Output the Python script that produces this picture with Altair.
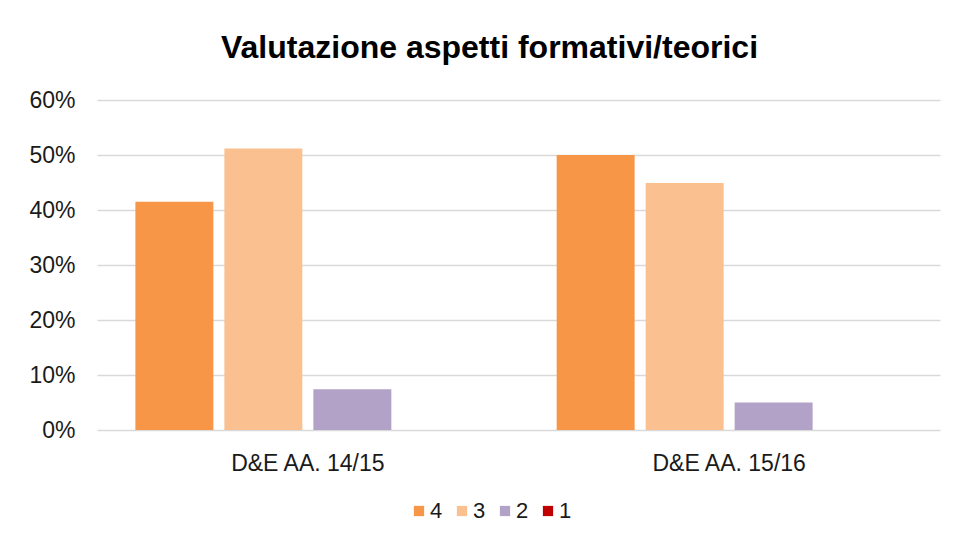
import altair as alt
import pandas as pd

categories = ["D&E AA. 14/15", "D&E AA. 15/16"]
series = ["4", "3", "2", "1"]
values_1415 = [0.415, 0.512, 0.074, 0.0]
values_1516 = [0.500, 0.449, 0.050, 0.0]
colors = ["#F79646", "#FAC090", "#B3A2C7", "#C00000"]

rows = []
for cat, vals in zip(categories, [values_1415, values_1516]):
    for s, v in zip(series, vals):
        rows.append({"cat": cat, "serie": s, "val": v})
df = pd.DataFrame(rows)

FONT = "Liberation Sans"
TXT = "#1a1a1a"

chart = alt.Chart(df).mark_bar().encode(
    x=alt.X("cat:N", sort=categories, title=None,
            scale=alt.Scale(paddingInner=0.155, paddingOuter=0.078),
            axis=alt.Axis(labelAngle=0, ticks=False, domain=False, grid=False,
                          labelFontSize=23, labelColor=TXT, labelFont=FONT,
                          labelPadding=22)),
    xOffset=alt.XOffset("serie:N", sort=series,
                        scale=alt.Scale(paddingInner=0.124, paddingOuter=0.062)),
    y=alt.Y("val:Q", title=None,
            scale=alt.Scale(domain=[0, 0.6]),
            axis=alt.Axis(format=".0%", values=[0, 0.1, 0.2, 0.3, 0.4, 0.5, 0.6],
                          ticks=False, domain=False, gridColor="#D9D9D9", gridWidth=1.3,
                          labelFontSize=23, labelColor=TXT, labelFont=FONT,
                          labelPadding=22)),
    color=alt.Color("serie:N", sort=series,
                    scale=alt.Scale(domain=series, range=colors),
                    legend=alt.Legend(title=None, orient="none", direction="horizontal",
                                      legendX=311, legendY=400, padding=0,
                                      symbolType="square", symbolSize=105,
                                      symbolStrokeWidth=0, labelFontSize=22,
                                      labelFont=FONT, labelColor=TXT,
                                      columnPadding=8, labelOffset=0)),
).properties(
    width=843,
    height=330,
    title=alt.TitleParams("Valutazione aspetti formativi/teorici", fontSize=32,
                          font=FONT, fontWeight="bold", color="#000000",
                          anchor="middle", offset=24, dx=-29),
    autosize=alt.AutoSizeParams(type="none"),
    padding={"left": 89, "top": 92, "right": 8, "bottom": 100},
).configure_view(stroke=None)

chart.save("out.html", embed_options={"renderer": "svg", "actions": False})
